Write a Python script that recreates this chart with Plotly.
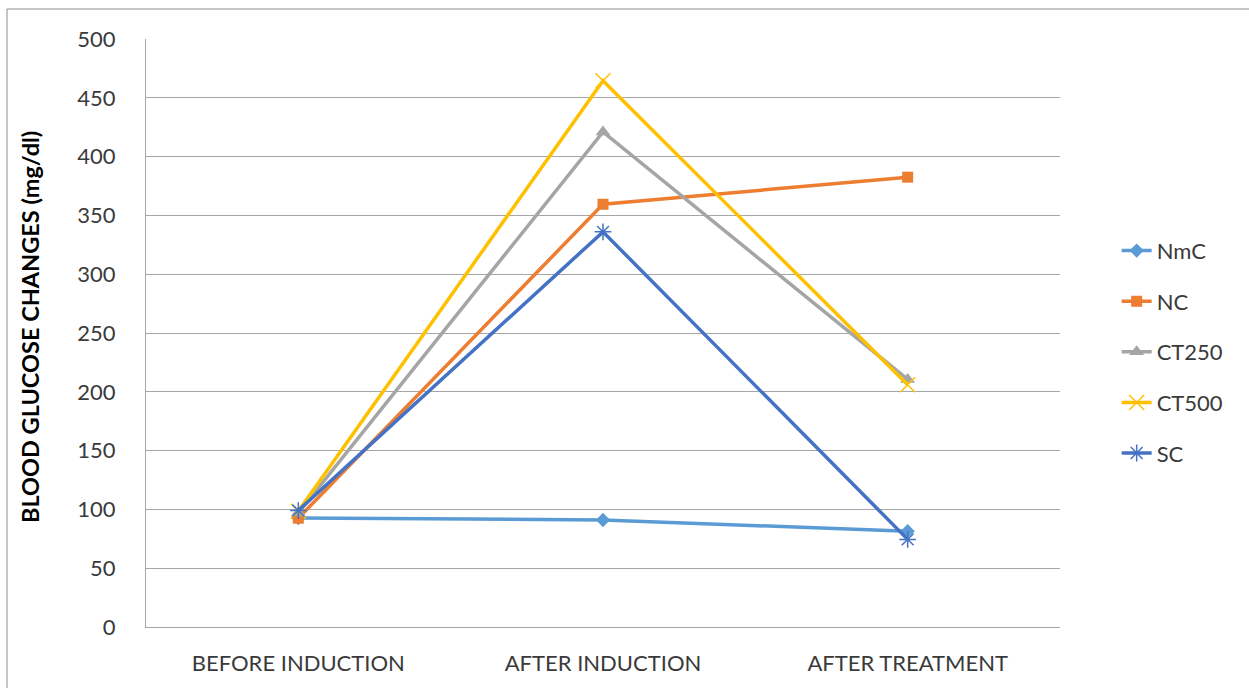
import plotly.graph_objects as go

# Sampling stages on the category axis
stages = ["BEFORE INDUCTION", "AFTER INDUCTION", "AFTER TREATMENT"]

# Mean blood glucose (mg/dl) per group at each stage
nmc = [92.7, 91.0, 81.5]
nc = [92.5, 359.5, 382.5]
ct250 = [97.0, 421.0, 210.5]
ct500 = [98.5, 464.5, 206.0]
sc = [99.0, 336.0, 74.5]

y_ticks = [0, 50, 100, 150, 200, 250, 300, 350, 400, 450, 500]

series = [
    ("NmC", nmc, "#5B9BD5", dict(symbol="diamond", size=11)),
    ("NC", nc, "#ED7D31", dict(symbol="square", size=11)),
    ("CT250", ct250, "#A5A5A5", dict(symbol="triangle-up", size=13)),
    ("CT500", ct500, "#FFC000", dict(symbol="x-thin-open", size=15, line=dict(width=1.5, color="#FFC000"))),
    ("SC", sc, "#4472C4", dict(symbol="asterisk-open", size=14, line=dict(width=1.5, color="#4472C4"))),
]

FONT = "Lato"
TXT = "#3A3A3A"
fig = go.Figure()
xs = list(range(len(stages)))
for i, (name, vals, color, marker) in enumerate(series):
    m = dict(color=color)
    m.update(marker)
    fig.add_trace(go.Scatter(
        x=xs, y=vals, name=name, mode="lines+markers",
        line=dict(color=color, width=3.5), marker=m,
        legendgroup=f"g{i}",
    ))

fig.update_layout(
    width=1249, height=688,
    margin=dict(l=146, r=189, t=39, b=61),
    paper_bgcolor="white", plot_bgcolor="white",
    font=dict(family=FONT, size=22, color=TXT),
    showlegend=True,
    legend=dict(
        x=1.062, y=0.468, xanchor="left", yanchor="middle",
        font=dict(family=FONT, size=22, color=TXT),
        tracegroupgap=19, bgcolor="rgba(0,0,0,0)",
    ),
    xaxis=dict(
        range=[-0.5, 2.5], tickvals=xs, ticktext=stages,
        showgrid=False, zeroline=False,
        showline=True, linecolor="#A6A6A6", linewidth=1,
        ticks="", ticklabelstandoff=17,
        tickfont=dict(family=FONT, size=22, color=TXT),
    ),
    yaxis=dict(
        range=[0, 500], tickvals=y_ticks,
        showgrid=True, gridcolor="#A6A6A6", gridwidth=1,
        zeroline=False, showline=True, linecolor="#A6A6A6", linewidth=1,
        ticks="", ticklabelstandoff=25,
        tickfont=dict(family=FONT, size=22, color=TXT),
    ),
    annotations=[dict(
        text="<b>BLOOD GLUCOSE CHANGES (mg/dl)</b>",
        xref="paper", yref="paper", x=-0.127, y=0.51,
        xanchor="center", yanchor="middle", textangle=-90,
        showarrow=False, font=dict(family=FONT, size=23.5, color="#000000"),
    )],
    shapes=[dict(
        type="rect", xref="paper", yref="paper",
        x0=(7 - 146) / 914, x1=1.3, y0=-0.2, y1=(627 - 9) / 588,
        line=dict(color="#8C8C8C", width=1), fillcolor="rgba(0,0,0,0)",
        layer="below",
    )],
)

fig.write_html("out.html")
